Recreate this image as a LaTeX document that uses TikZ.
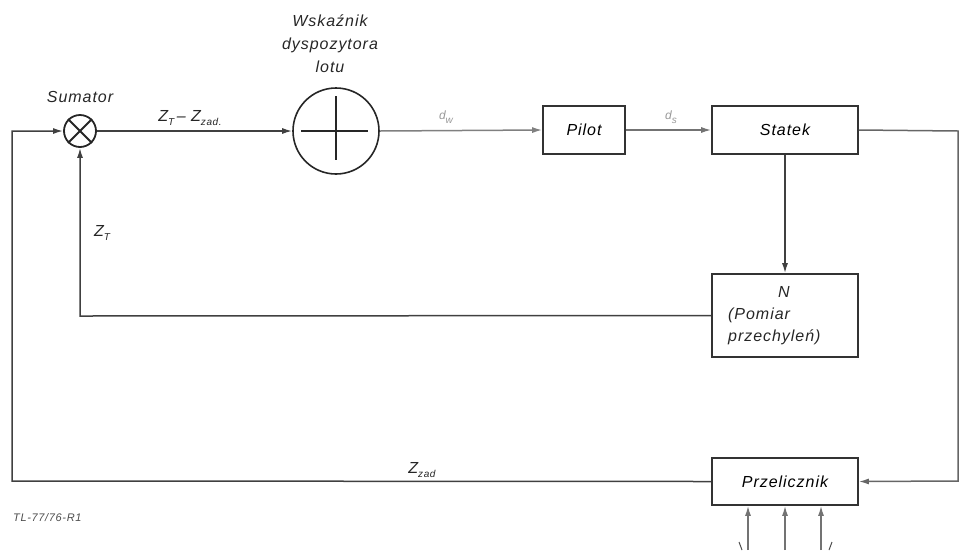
\documentclass[tikz,border=0pt]{standalone}
\usepackage{fontspec}
\setmainfont{Liberation Sans}[LetterSpace=6]
\usetikzlibrary{arrows.meta}
\newcommand{\sbx}[1]{\raisebox{-3.5pt}{\fontsize{10}{10}\selectfont #1}}
\tikzset{
  x=1pt, y=-1pt,
  ln/.style={draw=black!75, line width=1.5pt},
  arr/.style={ln, -{Latex[length=10pt,width=6pt]}},
  blk/.style={draw=black!80, line width=1.6pt, minimum width=146pt, minimum height=48pt, inner sep=0pt, font=\fontsize{16}{19}\selectfont\itshape},
  lbl/.style={font=\fontsize{16}{19}\selectfont\itshape, inner sep=0pt, text=black!85},
}
\begin{document}
\begin{tikzpicture}
\useasboundingbox (0,0) rectangle (960,550);
% nodes
\node[circle, draw=black!85, line width=1.8pt, minimum size=32pt, inner sep=0pt] (sum) at (80,131) {};
\draw[black!85, line width=1.8pt] (sum.45) -- (sum.225) (sum.135) -- (sum.315);
\node[lbl] (sumt) at (80,97) {Sumator};
\node[circle, draw=black!85, line width=1.6pt, minimum size=86pt, inner sep=0pt] (wsk) at (336,131) {};
\draw[black!85, line width=1.6pt] ([xshift=9pt]wsk.west) -- ([xshift=-12pt]wsk.east)
  ([yshift=-9pt]wsk.north) -- ([yshift=15pt]wsk.south);
\node[lbl, align=center] (wskt) at (330,44) {Wskaźnik\\[4pt]dyspozytora\\[4pt]lotu};
\node[blk, minimum width=82pt] (pilot) at (584,130) {Pilot};
\node[blk] (statek) at (785,130) {Statek};
\node[blk, minimum height=83pt] (n) at (785,315.5) {};
\node[lbl, align=left, anchor=west] (nt) at (728,316) {\hspace*{50pt}N\\[3pt](Pomiar\\[3pt]przechyleń)};
\node[blk, minimum height=47pt] (prz) at (785,481.5) {Przelicznik};
% coordinates
\coordinate (lt) at (12,131);
\coordinate (lb) at (12,481);
\coordinate (zb) at (80,316);
\coordinate (rt) at (958,131);
\coordinate (rb) at (958,481);
\coordinate (i1) at (748,550);
\coordinate (i2) at (785,550);
\coordinate (i3) at (821,550);
% connectors
\draw[arr] (prz.west) -- (lb) -- (lt) -- (sum.west);
\draw[arr] (n.west) -- (zb) -- (sum.south);
\draw[arr] (sum.east) -- (wsk.west);
\draw[arr, draw=black!50] (wsk.east) -- (pilot.west);
\draw[arr, draw=black!55] (pilot.east) -- (statek.west);
\draw[arr] (statek.south) -- (n.north);
\draw[arr, draw=black!60] (statek.east) -- (rt) -- (rb) -- (prz.east);
\draw[arr, draw=black!55] (i1) -- (i1 |- prz.south);
\draw[arr, draw=black!55] (i2) -- (i2 |- prz.south);
\draw[arr, draw=black!55] (i3) -- (i3 |- prz.south);
\draw[black!70, line width=1pt] (739,542) -- (742,550) (832,542) -- (829,550);
% labels
\node[lbl] (l1) at (190,118) {Z\sbx{T}\,– Z\sbx{zad.}};
\node[lbl, text=black!40, font=\fontsize{12}{14}\selectfont\itshape] (l2) at (446,117) {d\sbx{w}};
\node[lbl, text=black!40, font=\fontsize{12}{14}\selectfont\itshape] (l3) at (671,117) {d\sbx{s}};
\node[lbl] (l4) at (102,233) {Z\sbx{T}};
\node[lbl] (l5) at (422,470) {Z\sbx{zad}};
\node[lbl, anchor=west, font=\fontsize{11}{12}\selectfont\itshape, text=black!70] (l6) at (13,518) {TL-77/76-R1};
\end{tikzpicture}
\end{document}
